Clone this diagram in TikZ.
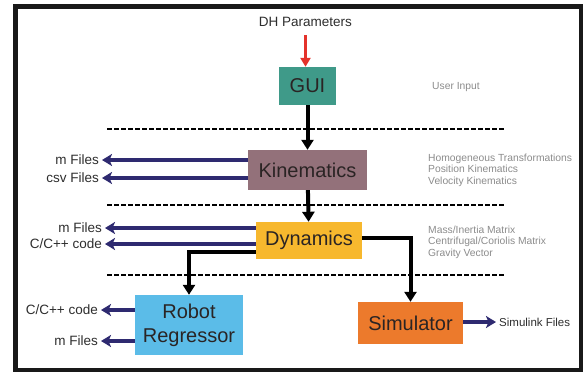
\documentclass[tikz,border=0pt]{standalone}
\usepackage{fontspec}
\setmainfont{Liberation Sans}
\usetikzlibrary{arrows.meta}
\definecolor{guic}{HTML}{3F9A89}
\definecolor{kinc}{HTML}{93717A}
\definecolor{dync}{HTML}{F7B82E}
\definecolor{rrc}{HTML}{5BBCE8}
\definecolor{simc}{HTML}{EC7A2C}
\definecolor{outc}{HTML}{2E2A70}
\definecolor{inc}{HTML}{E4322B}
\definecolor{boxtext}{HTML}{2A2424}
\definecolor{lbltext}{HTML}{2E2E2E}
\definecolor{notetext}{HTML}{8C8C8C}
\begin{document}
\begin{tikzpicture}[x=1pt,y=-1pt,
  block/.style={inner sep=0pt, text=boxtext, font=\fontsize{20}{23}\selectfont},
  lbl/.style={inner sep=0pt, text=lbltext, font=\fontsize{13.5}{15}\selectfont},
  note/.style={inner sep=0pt, text=notetext, align=left, anchor=west,
    font=\fontsize{10.3}{11.6}\selectfont},
  flow/.style={line width=4pt, -{Triangle[width=12pt,length=10pt]}},
  outarrow/.style={line width=4pt, draw=outc,
    -{Stealth[width=12pt,length=10pt,inset=2.5pt]}, shorten >=3pt},
  sepline/.style={line width=2pt, dash pattern=on 4.5pt off 2.5pt}]
\useasboundingbox (0,0) rectangle (584,372);
\fill[white] (0,0) rectangle (584,372);
\draw[line width=4.5pt, draw=black!90] (15.5,6.5) rectangle (581,370);

% level separators
\draw[sepline] (107,129) -- (506,129);
\draw[sepline] (107,205) -- (506,205);
\draw[sepline] (107,275) -- (506,275);

% blocks
\node[block, fill=guic, minimum width=57pt, minimum height=38pt] (gui) at (307.5,86) {GUI};
\node[block, fill=kinc, minimum width=119pt, minimum height=40pt] (kin) at (307.5,170) {Kinematics};
\node[block, fill=dync, minimum width=106pt, minimum height=37pt] (dyn) at (309,240.5) {Dynamics};
\node[block, fill=rrc, minimum width=108pt, minimum height=60pt, align=center,
  font=\fontsize{20}{24}\selectfont] (rr) at (189,325) {Robot\\Regressor};
\node[block, fill=simc, minimum width=105pt, minimum height=42pt] (sim) at (410.5,323) {Simulator};

% input
\node[lbl] (dh) at (305.5,22) {DH Parameters};
\draw[line width=3pt, draw=inc, -{Triangle[width=10pt,length=9pt]}]
  (dh.south |- 0,35) -- (gui.north -| dh.south);

% main flow
\draw[flow] (gui) -- (kin);
\draw[flow] (kin) -- (dyn);
\draw[flow] (dyn.east |- 0,238) -| (sim.north);
\draw[flow] (dyn.west |- 0,252) -| (rr.north);

% outputs
\node[lbl, anchor=east] (k1) at (99,160) {m Files};
\node[lbl, anchor=east] (k2) at (99,178) {csv Files};
\node[lbl, anchor=east] (d1) at (102,228) {m Files};
\node[lbl, anchor=east] (d2) at (102,244) {C/C++ code};
\node[lbl, anchor=east] (r1) at (98,310) {C/C++ code};
\node[lbl, anchor=east] (r2) at (98,341) {m Files};
\node[inner sep=0pt, text=lbltext, font=\fontsize{11.5}{13}\selectfont, anchor=west]
  (s1) at (499,322) {Simulink Files};

\draw[outarrow] (kin.west |- k1.east) -- (k1.east);
\draw[outarrow] (kin.west |- k2.east) -- (k2.east);
\draw[outarrow] (dyn.west |- d1.east) -- (d1.east);
\draw[outarrow] (dyn.west |- d2.east) -- (d2.east);
\draw[outarrow] (rr.west |- r1.east) -- (r1.east);
\draw[outarrow] (rr.west |- r2.east) -- (r2.east);
\draw[outarrow] (sim.east |- s1.west) -- (s1.west);

% notes
\node[note] (n0) at (432,87) {User Input};
\node[note] (n1) at (428,170) {Homogeneous Transformations\\Position Kinematics\\Velocity Kinematics};
\node[note] (n2) at (428,242) {Mass/Inertia Matrix\\Centrifugal/Coriolis Matrix\\Gravity Vector};
\end{tikzpicture}
\end{document}
